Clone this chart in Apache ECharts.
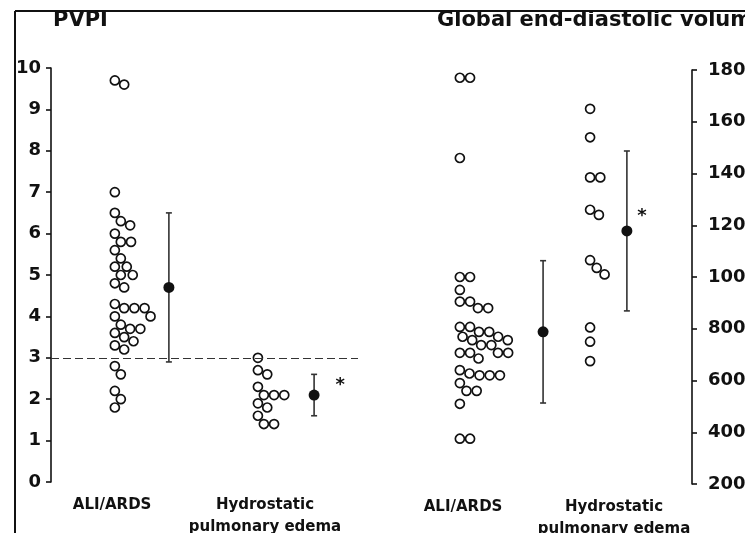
<!DOCTYPE html>
<html>
<head>
<meta charset="utf-8">
<script src="https://cdn.jsdelivr.net/npm/echarts@6/dist/echarts.min.js"></script>
<style>
  html, body { margin: 0; padding: 0; background: #fff; }
  #chart { width: 745px; height: 533px; }
</style>
</head>
<body>
<div id="chart"></div>
<script>
// Patient groups
const groupNames = ['ALI/ARDS', 'Hydrostatic\npulmonary edema'];

// Pulmonary vascular permeability index, one value per patient
const pvpiAli = [9.7, 9.6, 7.0, 6.5, 6.3, 6.2, 6.0, 5.8, 5.8, 5.6, 5.4, 5.2, 5.2, 5.0, 5.0, 4.8, 4.7,
                 4.3, 4.2, 4.2, 4.2, 4.0, 4.0, 3.8, 3.7, 3.7, 3.6, 3.5, 3.4, 3.3, 3.2, 2.8, 2.6, 2.2, 2.0, 1.8];
const pvpiHydro = [3.0, 2.7, 2.6, 2.3, 2.1, 2.1, 2.1, 1.9, 1.8, 1.6, 1.4, 1.4];

// Global end-diastolic volume (ml), one value per patient
const gedvAli = [1770, 1770, 1460, 1000, 1000, 950, 905, 905, 880, 880, 807, 807, 788, 788, 769, 769, 756, 756,
                 737, 737, 707, 707, 707, 707, 685, 640, 627, 620, 620, 620, 590, 560, 560, 510, 375, 375];
const gedvHydro = [1650, 1540, 1385, 1385, 1260, 1240, 1065, 1035, 1010, 805, 750, 675];

// Group summaries (mean and standard deviation)
const pvpiMean = [4.7, 2.1];
const pvpiSd = [1.8, 0.5];
const gedvMean = [788, 1178];
const gedvSd = [275, 309];

// Significance marks per group
const significance = ['', '*'];

// PVPI cut-off line
const pvpiThreshold = 3;

// Panel titles
const panelTitles = ['PVPI', 'Global end-diastolic volume'];

const FONT = 'DejaVu Sans';
const INK = '#111';

// Horizontal layout of each panel, in axis units (0..100 across a panel)
const panels = [
  { grid: { left: 51, top: 68, width: 307, height: 414 },
    dotX: [20.8, 67.4], meanX: [38.4, 85.7], labelX: [19.9, 69.7], starOffset: [26, -10] },
  { grid: { left: 400, top: 70, width: 292, height: 414 },
    dotX: [20.5, 65.1], meanX: [49.0, 77.7], labelX: [21.6, 73.3], starOffset: [15, -15] }
];

const panelData = [
  { dots: [pvpiAli, pvpiHydro], mean: pvpiMean, sd: pvpiSd },
  { dots: [gedvAli, gedvHydro], mean: gedvMean, sd: gedvSd }
];

const chart = echarts.init(document.getElementById('chart'), null, { renderer: 'canvas' });

function categoryAxis(i) {
  const p = panels[i];
  return {
    type: 'value', gridIndex: i, min: 0, max: 100,
    axisLine: { show: false }, axisTick: { show: false }, splitLine: { show: false },
    axisLabel: {
      show: true, customValues: p.labelX, margin: 12,
      fontFamily: FONT, fontSize: 15, fontWeight: 'bold', color: INK, lineHeight: 22,
      formatter: v => {
        let best = 0;
        p.labelX.forEach((x, k) => { if (Math.abs(x - v) < Math.abs(p.labelX[best] - v)) best = k; });
        return groupNames[best];
      }
    }
  };
}

function valueAxis(i, opts, labelMargin) {
  return Object.assign({
    type: 'value', gridIndex: i,
    axisLine: { show: true, onZero: false, lineStyle: { color: INK, width: 1.6 } },
    axisTick: { show: true, inside: false, length: 5, lineStyle: { color: INK, width: 1.6 } },
    splitLine: { show: false },
    axisLabel: { fontFamily: FONT, fontSize: 18, fontWeight: 'bold', color: INK, margin: labelMargin,
                 formatter: v => String(v) }
  }, opts);
}

function dotSeries(panel, g, xs) {
  const vals = panelData[panel].dots[g];
  return {
    id: 'dots-' + panel + '-' + g,
    type: 'scatter', xAxisIndex: panel, yAxisIndex: panel,
    symbol: 'circle', symbolSize: 9,
    itemStyle: { color: '#fff', borderColor: INK, borderWidth: 1.7, opacity: 1 },
    z: 3, silent: true,
    data: vals.map((v, k) => [xs ? xs[k] : panels[panel].dotX[g], v])
  };
}

function errorSeries(panel) {
  const d = panelData[panel];
  return {
    type: 'custom', xAxisIndex: panel, yAxisIndex: panel, z: 2, silent: true,
    encode: { x: 0, y: [1, 2] },
    data: d.mean.map((m, g) => [panels[panel].meanX[g], m - d.sd[g], m + d.sd[g]]),
    renderItem: (params, api) => {
      const x = api.value(0);
      const lo = api.coord([x, api.value(1)]);
      const hi = api.coord([x, api.value(2)]);
      const cap = 3;
      const st = { stroke: '#333', lineWidth: 1.6 };
      return {
        type: 'group',
        children: [
          { type: 'line', shape: { x1: lo[0], y1: lo[1], x2: hi[0], y2: hi[1] }, style: st },
          { type: 'line', shape: { x1: hi[0] - cap, y1: hi[1], x2: hi[0] + cap, y2: hi[1] }, style: st },
          { type: 'line', shape: { x1: lo[0] - cap, y1: lo[1], x2: lo[0] + cap, y2: lo[1] }, style: st }
        ]
      };
    }
  };
}

function meanSeries(panel) {
  const d = panelData[panel];
  return {
    type: 'scatter', xAxisIndex: panel, yAxisIndex: panel, z: 4, silent: true,
    symbol: 'circle', symbolSize: 11,
    itemStyle: { color: INK, opacity: 1 },
    data: d.mean.map((m, g) => ({
      value: [panels[panel].meanX[g], m],
      label: {
        show: !!significance[g], formatter: significance[g], position: 'inside',
        offset: panels[panel].starOffset, fontFamily: FONT, fontSize: 18, fontWeight: 'bold', color: INK
      }
    }))
  };
}

const series = [
  dotSeries(0, 0), dotSeries(0, 1), dotSeries(1, 0), dotSeries(1, 1),
  errorSeries(0), errorSeries(1), meanSeries(0), meanSeries(1)
];
// dashed cut-off line across the PVPI panel
series[0].markLine = {
  silent: true, symbol: 'none', animation: false,
  label: { show: false },
  lineStyle: { color: '#333', width: 1.2, type: [8, 4] },
  data: [{ yAxis: pvpiThreshold }]
};

chart.setOption({
  animation: false,
  backgroundColor: '#fff',
  title: [
    { text: panelTitles[0], left: 53, top: 10, padding: 0,
      textStyle: { fontFamily: FONT, fontSize: 21, fontWeight: 'bold', color: INK } },
    { text: panelTitles[1], left: 437, top: 10, padding: 0,
      textStyle: { fontFamily: FONT, fontSize: 21, fontWeight: 'bold', color: INK } }
  ],
  grid: panels.map(p => Object.assign({ containLabel: false, outerBoundsMode: 'none' }, p.grid)),
  xAxis: [categoryAxis(0), categoryAxis(1)],
  yAxis: [
    valueAxis(0, { position: 'left', min: 0, max: 10, interval: 1 }, 10),
    valueAxis(1, { position: 'right', min: 200, max: 1800, interval: 200 }, 16)
  ],
  graphic: [
    { type: 'line', shape: { x1: 15, y1: 11, x2: 745, y2: 11 }, style: { stroke: INK, lineWidth: 2 } },
    { type: 'line', shape: { x1: 15, y1: 11, x2: 15, y2: 533 }, style: { stroke: INK, lineWidth: 2 } }
  ],
  series: series
});

// Spread each group's dots sideways so the circles don't overlap (one-sided swarm)
function swarm(ysPx, D) {
  const placed = [];
  return ysPx.map(y => {
    const cands = [0];
    placed.forEach(p => {
      const dy = Math.abs(p.y - y);
      if (dy < D) cands.push(p.x + Math.sqrt(D * D - dy * dy));
    });
    cands.sort((a, b) => a - b);
    const x = cands.find(c => placed.every(p => (c - p.x) ** 2 + (y - p.y) ** 2 >= D * D - 0.01));
    placed.push({ x: x, y: y });
    return x;
  });
}

const updates = [];
[0, 1].forEach(panel => {
  [0, 1].forEach(g => {
    const vals = panelData[panel].dots[g];
    const basePx = chart.convertToPixel({ xAxisIndex: panel }, panels[panel].dotX[g]);
    const ys = vals.map(v => chart.convertToPixel({ yAxisIndex: panel }, v));
    const offs = swarm(ys, 10.2);
    const xs = offs.map(o => chart.convertFromPixel({ xAxisIndex: panel }, basePx + o));
    updates.push({ id: 'dots-' + panel + '-' + g, data: vals.map((v, k) => [xs[k], v]) });
  });
});
chart.setOption({ series: updates });
</script>
</body>
</html>
